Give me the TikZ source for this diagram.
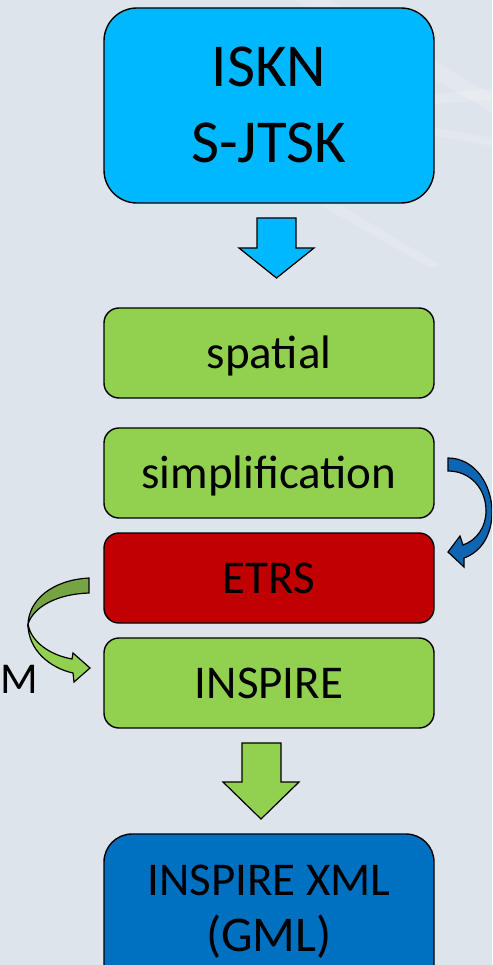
\documentclass[tikz,border=0pt]{standalone}
\usepackage{fontspec}
\setmainfont{Carlito}
\definecolor{bg}{HTML}{DEE4EB}
\definecolor{skyb}{HTML}{00B8FF}
\definecolor{grn}{HTML}{92D050}
\definecolor{dgrn}{HTML}{76A443}
\definecolor{redb}{HTML}{C00000}
\definecolor{darkb}{HTML}{0070C0}
\definecolor{cblue}{HTML}{0E66B2}
\begin{document}
\begin{tikzpicture}[x=1pt,y=-1pt,
  box/.style={draw=black, line width=1.4pt, rounded corners=15pt, minimum width=330pt, minimum height=90pt, inner sep=0pt},
  txt/.style={font=\fontsize{47}{57}\selectfont, anchor=base, inner sep=0pt},
  bigtxt/.style={font=\fontsize{61}{76}\selectfont, anchor=base, inner sep=0pt},
  blk/.style={draw=black, line width=1.2pt, line join=miter}]
\useasboundingbox (0,0) rectangle (492,965);
\clip (0,0) rectangle (492,965);
\fill[bg] (0,0) rectangle (492,965);
% faint background swooshes
\fill[white, opacity=0.18] (295,0) -- (330,0) -- (492,95) -- (492,112) -- cycle;
\fill[white, opacity=0.18] (434,95) -- (492,88) -- (492,100) -- (434,104) -- cycle;
\fill[white, opacity=0.18] (434,128) -- (492,138) -- (492,146) -- (434,136) -- cycle;
\fill[white, opacity=0.15] (320,205) -- (340,205) -- (440,265) -- (430,268) -- cycle;
% boxes
\node[box, fill=skyb, minimum height=195pt, rounded corners=33pt] (iskn) at (269,105.5) {};
\node[bigtxt] (t1) at (269,87) {ISKN};
\node[bigtxt] (t2) at (269,163) {S-JTSK};
\node[box, fill=grn] (spatial) at (269,353) {};
\node[txt] at (269,368) {spatial};
\node[box, fill=grn] (simpl) at (269,473) {};
\node[txt] at (269,488) {simplification};
\node[box, fill=redb] (etrs) at (269,578) {};
\node[txt] at (269,593) {ETRS};
\node[box, fill=grn] (inspire) at (269,683) {};
\node[txt] at (269,698) {INSPIRE};
\node[box, fill=darkb, minimum height=160pt, rounded corners=28pt] (xml) at (269,914) {};
\node[txt] at (269,895) {INSPIRE XML};
\node[txt, font=\fontsize{50}{57}\selectfont] at (269,951) {(GML)};
\node[font=\fontsize{44}{50}\selectfont, anchor=base west, inner sep=0pt] (m) at (0,693) {M};
% block arrows
\draw[blk, fill=skyb] (257,218) -- (296,218) -- (296,248) -- (314,248) -- (276.5,278) -- (239,248) -- (257,248) -- cycle;
\draw[blk, fill=grn] (242,743) -- (281,743) -- (281,782) -- (299,782) -- (261,819) -- (223,782) -- (242,782) -- cycle;
% curved blue arrow (simplification -> ETRS)
\draw[blk, fill=cblue] (448,458) .. controls (475,458) and (492,485) .. (492,512)
  .. controls (492,535) and (481,552) .. (464,558) -- (464,567) -- (448,552) -- (460,536) -- (463,545)
  .. controls (477,540) and (486,527) .. (486,511)
  .. controls (486,488) and (470,471) .. (448,471) -- cycle;
% curved green arrow (ETRS -> INSPIRE)
\draw[blk, fill=dgrn] (89,578) .. controls (52,580) and (29,600) .. (28,624)
  .. controls (34,606) and (58,594) .. (89,593) -- cycle;
\draw[blk, fill=grn] (28,624) .. controls (28,650) and (50,668) .. (73,673) -- (74,682) -- (90,668) -- (73,653) -- (72,659)
  .. controls (50,655) and (31,642) .. (28,624) -- cycle;
\end{tikzpicture}
\end{document}
